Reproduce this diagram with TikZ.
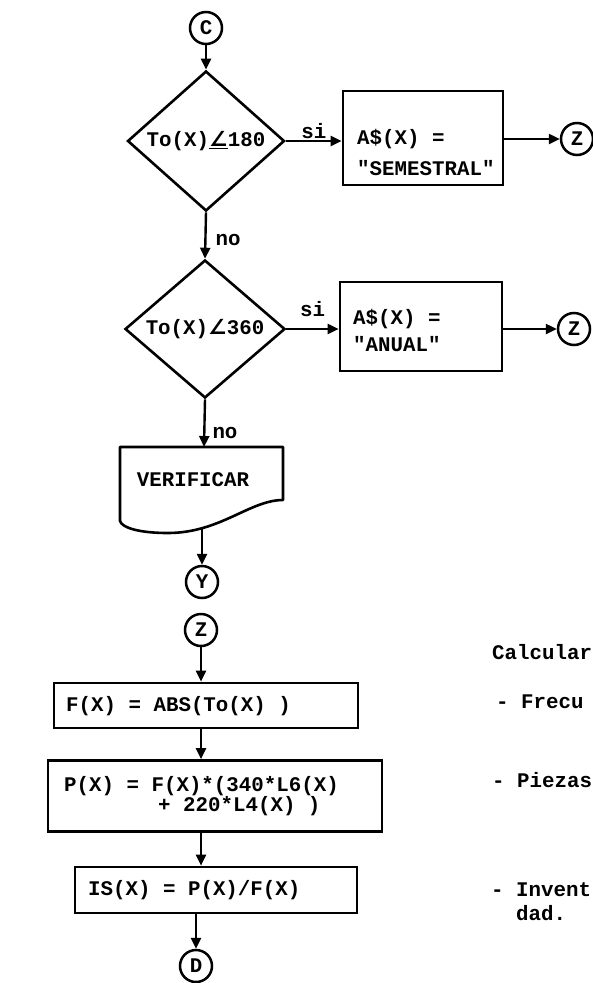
\documentclass[tikz,border=0pt]{standalone}
\usepackage{fontspec}
\usetikzlibrary{shapes.geometric, arrows.meta, positioning, calc}
\newfontfamily\typew{Liberation Mono}
\newfontfamily\symf{DejaVu Sans}
\newcommand\typesize[1]{\typew\bfseries\fontsize{20.8}{#1}\selectfont}

\begin{document}
\begin{tikzpicture}[
  x=1pt, y=-1pt,
  every node/.style={font=\typesize{25}},
  conn/.style={circle, draw, line width=2.5pt, minimum size=32pt, inner sep=0pt},
  ask/.style={diamond, draw, line width=2.6pt, inner sep=0pt, aspect=1.2},
  proc/.style={rectangle, draw, line width=2.6pt, inner sep=0pt},
  txt/.style={inner sep=0pt, anchor=west, align=left},
  arr/.style={-{Triangle[length=11pt,width=10pt]}, line width=2.4pt},
  lbl/.style={inner sep=1pt}
]
  \useasboundingbox (0,0) rectangle (593,983);

  \node[conn] (C) at (206,28) {C};
  \node[ask, minimum width=157pt, minimum height=140pt] (d1) at (206,141)
    {To(X){\symf\bfseries\underline{∠}}180};
  \node[ask, minimum width=160pt, minimum height=138pt] (d2) at (205,329)
    {To(X){\symf\bfseries ∠}360};

  \node[proc, minimum width=160pt, minimum height=94pt] (set1) at (423,138) {};
  \node[txt, font=\typesize{31}] (set1txt) at (357,152)
    {A\$(X) =\\"SEMESTRAL"};
  \node[proc, minimum width=162pt, minimum height=89pt] (set2) at (421,326.5) {};
  \node[txt, font=\typesize{27}] (set2txt) at (353,330.5)
    {A\$(X) =\\"ANUAL"};
  \node[conn] (z1) at (577,139) {Z};
  \node[conn] (z2) at (574,329) {Z};

  % documento VERIFICAR
  \coordinate (vin) at (204,447);
  \coordinate (vout) at (202,529);
  \draw[line width=2.6pt, line join=round]
    (120,447) -- (283,447) -- (283,500)
    .. controls (250,500) and (220,533) .. (168,533)
    .. controls (140,533) and (122,528) .. (120,521) -- cycle;
  \node (verif) at (193,480) {VERIFICAR};

  \node[conn] (Y) at (202,582) {Y};
  \node[conn] (z3) at (201,630) {Z};

  \node[proc, minimum width=304pt, minimum height=45pt] (fbox) at (206,705.5) {};
  \node[txt] (ftxt) at (66,706) {F(X) = ABS(To(X) )};
  \node[proc, minimum width=334pt, minimum height=71pt] (pbox) at (215,796) {};
  \node[txt, font=\typesize{20}] (ptxt) at (64,796)
    {P(X) = F(X)*(340*L6(X)\\\hspace*{94pt}+ 220*L4(X) )};
  \node[proc, minimum width=282pt, minimum height=46pt] (isbox) at (216,890) {};
  \node[txt] (istxt) at (88,890) {IS(X) = P(X)/F(X)};
  \node[conn] (D) at (196,966) {D};

  \draw[arr] (C) -- (d1.north);
  \draw[arr] (d1.east) -- (set1.west |- d1.east)
    node[midway, above, lbl] {si};
  \draw[arr] (set1.east |- z1) -- (z1);
  \draw[arr] (d1.south) -- (d2.north)
    node[pos=0.6, right, lbl, xshift=8pt] {no};
  \draw[arr] (d2.east) -- (set2.west |- d2.east)
    node[midway, above, lbl, yshift=10pt] {si};
  \draw[arr] (set2.east |- z2) -- (z2);
  \draw[arr] (d2.south) -- (vin)
    node[pos=0.7, right, lbl, xshift=6pt] {no};
  \draw[arr] (vout) -- (Y);
  \draw[arr] (z3) -- (z3 |- fbox.north);
  \draw[arr] (fbox.south -| z3) -- (pbox.north -| z3);
  \draw[arr] (pbox.south -| z3) -- (isbox.north -| z3);
  \draw[arr] (isbox.south -| D) -- (D);

  \node[txt] (calc) at (492,652) {Calcular};
  \node[txt] (frec) at (496,702) {- Frecu};
  \node[txt] (piez) at (492,780) {- Piezas};
  \node[txt] (inv) at (491,890) {- Invent};
  \node[txt] (inv2) at (516,913) {dad.};
\end{tikzpicture}
\end{document}
